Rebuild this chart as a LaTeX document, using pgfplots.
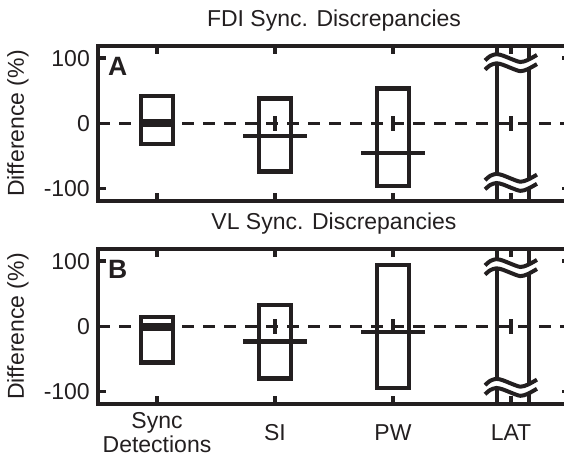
\documentclass[border=0pt]{standalone}
\usepackage{pgfplots}
\pgfplotsset{compat=1.18}
\usepackage{fontspec}
\setmainfont{Liberation Sans}

\definecolor{ink}{RGB}{35,31,32}
\newcommand{\fs}{\fontsize{23}{24}\selectfont}

% one wavy stroke of an axis break, centred at data value #2
\newcommand{\wave}[3]{%
  \draw[#1, line width=#3] plot[smooth] coordinates {
    (axis cs:3.78,{#2-3.6}) (axis cs:3.824,{#2+3}) (axis cs:3.877,{#2+6})
    (axis cs:3.934,{#2+3.6}) (axis cs:4.0,{#2-1.2}) (axis cs:4.079,{#2-6})
    (axis cs:4.141,{#2-3}) (axis cs:4.22,{#2+4.8})};}
% axis break drawn across the off-scale LAT box, centred at data value #1
\newcommand{\brk}[1]{%
  \wave{white}{#1}{9pt}%
  \wave{ink}{#1+7}{4pt}%
  \wave{ink}{#1-7}{4pt}%
}

\pgfplotsset{
  panel/.style={
    scale only axis, width=472pt, height=155pt,
    anchor=south west,
    xmin=0.5, xmax=4.5, ymin=-118.5, ymax=118.5,
    axis line style={ink, line width=4.2pt},
    tick style={ink, line width=3.2pt},
    major tick length=8pt,
    tick align=inside,
    xtick={1,2,3,4}, ytick={-100,0,100},
    yticklabels={-100,0,100},
    yticklabel style={font=\fs, inner sep=0pt, xshift=-8pt, text=ink},
    ylabel={Difference (\%)},
    every axis y label/.style={at={(axis description cs:-0.1695,0.5)},
      rotate=90, anchor=center, font=\fs, text=ink},
    title style={font=\fs, at={(axis description cs:0.5,1)}, anchor=base,
      yshift=13pt, text=ink},
    clip=true,
  },
  boxline/.style={ink, line width=4.4pt, line join=miter, mark=none},
  medline/.style={ink, line width=4.4pt, mark=none},
  zerotick/.style={ink, line width=3.2pt, mark=none},
  zeroline/.style={ink, line width=3pt, dash pattern=on 12pt off 9pt, mark=none},
}

\begin{document}
\begin{tikzpicture}
% ---------------- FDI ----------------
\begin{axis}[panel, at={(98pt,259pt)},
  title={FDI Sync. Discrepancies}, xticklabels={}]
  \addplot[zeroline] coordinates {(0.5,0) (4.5,0)};
  % Sync detections
  \addplot[boxline] coordinates {(0.865,-31.6) (1.135,-31.6) (1.135,41.7) (0.865,41.7)} -- cycle;
  \addplot[ink, line width=8pt, mark=none] coordinates {(0.865,0) (1.135,0)};
  % SI
  \addplot[boxline] coordinates {(1.865,-73.7) (2.135,-73.7) (2.135,38) (1.865,38)} -- cycle;
  \addplot[medline] coordinates {(1.73,-18.8) (2.27,-18.8)};
  \addplot[zerotick] coordinates {(2,-11) (2,12)};
  % PW
  \addplot[boxline] coordinates {(2.865,-96) (3.135,-96) (3.135,53.4) (2.865,53.4)} -- cycle;
  \addplot[medline] coordinates {(2.73,-45.3) (3.27,-45.3)};
  \addplot[zerotick] coordinates {(3,-11) (3,12)};
  % LAT (off scale)
  \addplot[boxline] coordinates {(3.88,-400) (4.15,-400) (4.15,400) (3.88,400)} -- cycle;
  \addplot[zerotick] coordinates {(4,-11) (4,12)};
  \brk{93}
  \brk{-90}
  \node[anchor=north west, inner sep=0pt, text=ink,
        font=\bfseries\fontsize{26.5}{26.5}\selectfont, xshift=10pt, yshift=-11pt]
        at (rel axis cs:0,1) {A};
\end{axis}
% ---------------- VL ----------------
\begin{axis}[panel, at={(98pt,56pt)},
  title={VL Sync. Discrepancies},
  xticklabels={{Sync\\Detections},SI,PW,LAT},
  xticklabel style={font=\fs, align=center, anchor=center, yshift=-29pt, text=ink}]
  \addplot[zeroline] coordinates {(0.5,0) (4.5,0)};
  % Sync detections
  \addplot[boxline] coordinates {(0.865,-55) (1.135,-55) (1.135,14.5) (0.865,14.5)} -- cycle;
  \addplot[ink, line width=8pt, mark=none] coordinates {(0.865,-0.5) (1.135,-0.5)};
  % SI
  \addplot[boxline] coordinates {(1.865,-79.7) (2.135,-79.7) (2.135,32.5) (1.865,32.5)} -- cycle;
  \addplot[medline] coordinates {(1.73,-22.9) (2.27,-22.9)};
  \addplot[zerotick] coordinates {(2,-11) (2,12)};
  % PW
  \addplot[boxline] coordinates {(2.865,-94.4) (3.135,-94.4) (3.135,94.2) (2.865,94.2)} -- cycle;
  \addplot[medline] coordinates {(2.73,-8.5) (3.27,-8.5)};
  \addplot[zerotick] coordinates {(3,-11) (3,12)};
  % LAT (off scale)
  \addplot[boxline] coordinates {(3.88,-400) (4.15,-400) (4.15,400) (3.88,400)} -- cycle;
  \addplot[zerotick] coordinates {(4,-11) (4,12)};
  \brk{90}
  \brk{-93}
  \node[anchor=north west, inner sep=0pt, text=ink,
        font=\bfseries\fontsize{26.5}{26.5}\selectfont, xshift=10pt, yshift=-11pt]
        at (rel axis cs:0,1) {B};
\end{axis}
\pgfresetboundingbox
\path[use as bounding box] (0,0) rectangle (564pt,460pt);
\end{tikzpicture}
\end{document}
